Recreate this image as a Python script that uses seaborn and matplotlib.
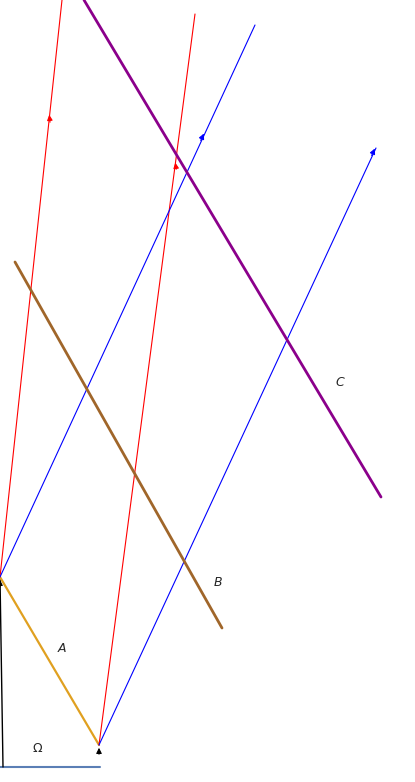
import matplotlib
matplotlib.use("Agg")
import matplotlib.pyplot as plt
import seaborn as sns
import pandas as pd

sns.set_style("white")

# segments: name, x0, y0, x1, y1, color, width (pixel coords, y down)
seg_names = ["base", "normal", "A", "red1", "red2", "blue1", "blue2", "B", "C"]
x0 = [0, 0, 0, 0, 99, 0, 99, 15, 84]
y0 = [767, 577, 577, 577, 745, 577, 745, 262, 0]
x1 = [100, 3, 99, 62, 195, 255, 376, 222, 381]
y1 = [767, 767, 745, 0, 14, 25, 148, 628, 497]
colors = ["#5b7fb5", "black", "#e0a020", "red", "red", "blue", "blue", "#a0662a", "#8b008b"]
widths = [1.5, 1.0, 1.6, 0.8, 0.8, 0.8, 0.8, 2.0, 2.0]

arrow_tips = [(0, 577), (99, 745), (49, 112), (175, 160), (205, 131), (376, 146)]
arrow_from = [(0, 590), (99, 757), (50.3, 100 + 25), (176.6, 172), (199.6, 143), (370.5, 158)]
arrow_cols = ["black", "black", "red", "red", "blue", "blue"]

labels = ["A", "B", "C", "Ω"]
lab_x = [62, 218, 340, 37]
lab_y = [648, 582, 382, 748]

fig = plt.figure(figsize=(4.15, 7.82), dpi=100)
ax = fig.add_axes([0, 0, 1, 1])
for i, n in enumerate(seg_names):
    df = pd.DataFrame({"x": [x0[i], x1[i]], "y": [y0[i], y1[i]]})
    sns.lineplot(data=df, x="x", y="y", ax=ax, color=colors[i], linewidth=widths[i],
                 sort=False, estimator=None)
for (tx, ty), (fx, fy), c in zip(arrow_tips, arrow_from, arrow_cols):
    ax.annotate("", xy=(tx, ty), xytext=(fx, fy),
                arrowprops=dict(arrowstyle="-|>", color=c, lw=0.8, mutation_scale=8))
for t, x, y in zip(labels, lab_x, lab_y):
    ax.text(x, y, t, fontsize=9, style="italic" if t != "Ω" else "normal",
            ha="center", va="center")
ax.set_xlim(0, 415)
ax.set_ylim(782, 0)
ax.axis("off")
fig.savefig("out.png", dpi=100)
